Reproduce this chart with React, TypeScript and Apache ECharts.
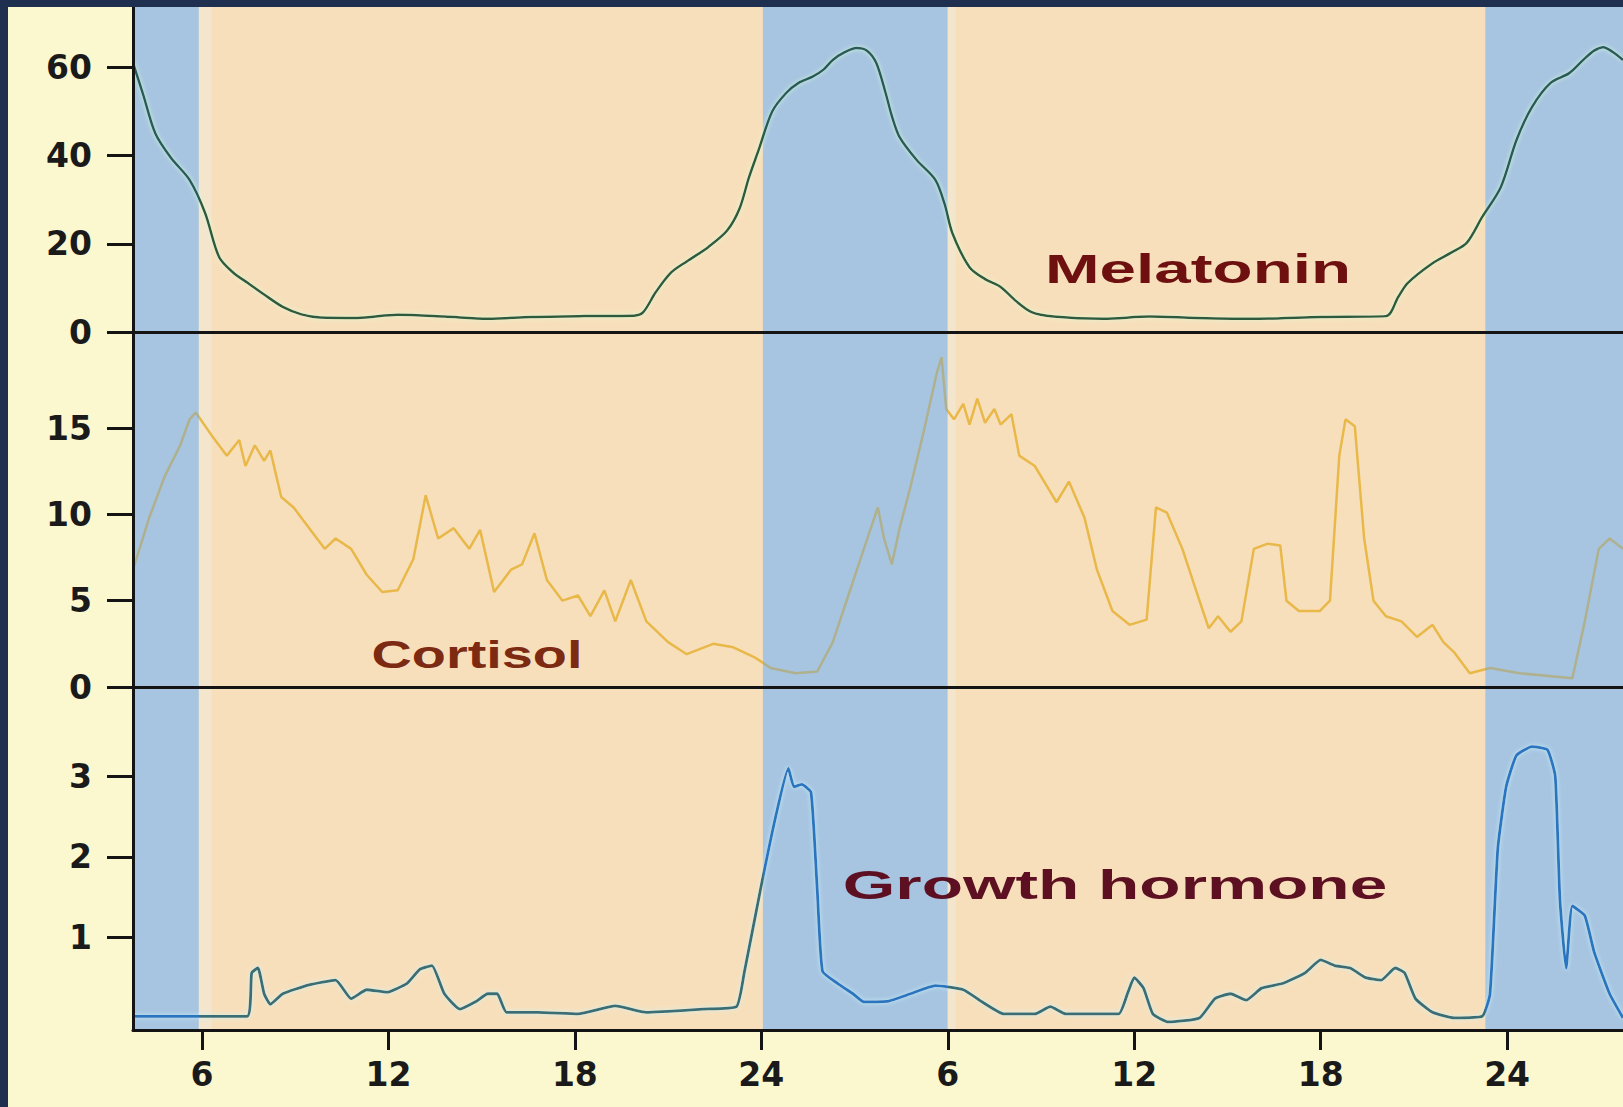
import React, { useEffect, useRef } from "react";
import * as echarts from "echarts";

// ---- data (hours on a continuous clock axis, values in panel units) ----
const xTickHours = [6, 12, 18, 24, 30, 36, 42, 48];
const xTickLabels = ["6", "12", "18", "24", "6", "12", "18", "24"];
const sleepBands = [
  [3.78, 5.9],
  [24.05, 30.0],
  [47.3, 51.73],
];
const dawnStrips = [
  [5.9, 6.3],
  [30.0, 30.25],
];
const melatoninTicks = [0, 20, 40, 60];
const cortisolTicks = [0, 5, 10, 15];
const ghTicks = [1, 2, 3];

const melatoninData = [
  [3.78, 61], [4.1, 54], [4.5, 45], [5.0, 39.5], [5.6, 34.5], [6.1, 27], [6.55, 17], [7.0, 13.5],
  [7.5, 11], [8.0, 8.5], [8.6, 5.7], [9.2, 4], [9.8, 3.3], [11, 3.2], [12.3, 3.9], [13.8, 3.5],
  [15.2, 3.0], [16.6, 3.4], [18.3, 3.6], [19.9, 3.7], [20.2, 4.5], [20.6, 9], [21.1, 13.5],
  [21.6, 16], [22.3, 19.3], [22.9, 23], [23.3, 28], [23.6, 35], [23.9, 41], [24.35, 50],
  [24.8, 54.2], [25.2, 56.5], [25.65, 57.9], [26.0, 59.5], [26.3, 61.7], [26.7, 63.5],
  [27.06, 64.4], [27.4, 63.8], [27.7, 61], [28.0, 54.2], [28.2, 49], [28.45, 44.2], [29.0, 39],
  [29.6, 34.5], [29.9, 29], [30.15, 22.4], [30.7, 14.7], [31.2, 12], [31.7, 10.2], [32.2, 7],
  [32.7, 4.5], [33.4, 3.5], [35, 3.0], [36.5, 3.5], [38, 3.2], [40, 3.0], [42, 3.4], [44.1, 3.6],
  [44.5, 8], [44.8, 11.1], [45.6, 15.6], [46.2, 18], [46.7, 20.2], [47.2, 26.1], [47.8, 32.9],
  [48.3, 43.5], [48.8, 51], [49.4, 56.5], [50.0, 58.7], [50.45, 61.7], [50.8, 63.8], [51.1, 64.6],
  [51.4, 63.5], [51.73, 61.7],
];

const cortisolData = [
  [3.78, 6.8], [4.3, 9.8], [4.8, 12.2], [5.3, 14], [5.6, 15.5], [5.8, 15.9], [6.3, 14.6], [6.8, 13.4],
  [7.2, 14.3], [7.4, 12.8], [7.7, 14], [8.0, 13.1], [8.2, 13.7], [8.55, 11], [8.95, 10.4], [9.45, 9.2],
  [9.95, 8], [10.3, 8.6], [10.8, 8], [11.3, 6.5], [11.8, 5.5], [12.3, 5.6], [12.8, 7.4], [13.2, 11.1],
  [13.6, 8.6], [14.1, 9.2], [14.6, 8], [14.95, 9.1], [15.4, 5.5], [15.95, 6.8], [16.3, 7.1],
  [16.7, 8.9], [17.1, 6.2], [17.6, 5], [18.1, 5.3], [18.5, 4.1], [18.95, 5.6], [19.3, 3.8],
  [19.8, 6.2], [20.3, 3.8], [21, 2.6], [21.6, 1.9], [22.45, 2.5], [23.1, 2.3], [23.8, 1.7],
  [24.3, 1.1], [25.1, 0.8], [25.8, 0.9], [26.3, 2.6], [26.8, 5.3], [27.3, 8], [27.75, 10.4],
  [27.95, 8.6], [28.2, 7.1], [28.45, 9.2], [28.8, 11.6], [29.2, 14.6], [29.65, 18.2], [29.8, 19.1],
  [29.95, 16.1], [30.2, 15.5], [30.5, 16.4], [30.7, 15.2], [30.95, 16.7], [31.2, 15.3], [31.5, 16.1],
  [31.7, 15.2], [32.05, 15.8], [32.3, 13.4], [32.8, 12.8], [33.2, 11.6], [33.5, 10.7], [33.9, 11.9],
  [34.4, 9.8], [34.8, 6.8], [35.3, 4.4], [35.85, 3.6], [36.4, 3.9], [36.7, 10.4], [37.05, 10.1],
  [37.55, 8], [38.1, 5], [38.4, 3.4], [38.7, 4.1], [39.1, 3.2], [39.45, 3.8], [39.85, 8], [40.3, 8.3],
  [40.7, 8.2], [40.9, 5], [41.3, 4.4], [41.97, 4.4], [42.3, 5], [42.6, 13.4], [42.8, 15.5],
  [43.1, 15.1], [43.4, 8.6], [43.7, 5], [44.1, 4.1], [44.6, 3.8], [45.1, 2.9], [45.6, 3.6],
  [45.95, 2.6], [46.3, 2.0], [46.8, 0.8], [47.45, 1.1], [48.4, 0.8], [50.1, 0.5], [50.5, 3.8],
  [50.95, 8], [51.3, 8.6], [51.73, 8],
];

const growthHormoneData = [
  [3.78, 0.02], [7.45, 0.02], [7.6, 0.56], [7.8, 0.62], [8.0, 0.3], [8.2, 0.17], [8.6, 0.3],
  [9.45, 0.41], [10.3, 0.47], [10.8, 0.24], [11.3, 0.35], [11.95, 0.32], [12.6, 0.43], [13.0, 0.6],
  [13.4, 0.65], [13.8, 0.3], [14.3, 0.11], [14.8, 0.2], [15.2, 0.3], [15.5, 0.3], [15.8, 0.07],
  [16.8, 0.07], [18.1, 0.05], [19.3, 0.15], [20.3, 0.07], [22.1, 0.11], [23.2, 0.14], [23.45, 0.56],
  [23.97, 1.59], [24.45, 2.48], [24.87, 3.1], [25.05, 2.87], [25.3, 2.9], [25.6, 2.8], [25.8, 1.59],
  [25.97, 0.58], [26.45, 0.43], [26.95, 0.3], [27.3, 0.2], [28.1, 0.21], [28.8, 0.3], [29.6, 0.4],
  [30.5, 0.35], [31.1, 0.2], [31.8, 0.05], [32.8, 0.05], [33.3, 0.14], [33.8, 0.05], [35.5, 0.05],
  [35.8, 0.32], [36.0, 0.5], [36.3, 0.37], [36.6, 0.05], [37.1, -0.05], [38.1, 0.0], [38.6, 0.24],
  [39.1, 0.3], [39.6, 0.22], [40.1, 0.37], [40.8, 0.43], [41.5, 0.56], [42.0, 0.72], [42.45, 0.65],
  [42.95, 0.62], [43.45, 0.5], [43.95, 0.47], [44.4, 0.62], [44.7, 0.56], [45.05, 0.24], [45.6, 0.07],
  [46.3, 0.0], [47.2, 0.02], [47.45, 0.3], [47.7, 2.1], [47.97, 2.87], [48.3, 3.26], [48.8, 3.37],
  [49.3, 3.33], [49.55, 3.0], [49.7, 1.47], [49.9, 0.62], [50.1, 1.39], [50.5, 1.27], [50.8, 0.82],
  [51.3, 0.3], [51.73, 0.0],
];

const X_MIN = 3.78;
const X_MAX = 51.73;

const AXIS_COLOR = "#141414";
const PEACH = "#f8dfbb";
const BAND_BLUE = "#a7c5e1";
const DAWN = "#f4e5cd";
const LABEL_FONT = { fontFamily: "DejaVu Sans", fontWeight: "bold" as const, fontSize: 33, color: "#1a1a1a" };

function bandPieces(inColor: string, outColor: string) {
  const pieces: any[] = [];
  let prev = -1000;
  sleepBands.forEach((b) => {
    pieces.push({ gte: prev, lt: b[0], color: outColor });
    pieces.push({ gte: b[0], lt: b[1], color: inColor });
    prev = b[1];
  });
  pieces.push({ gte: prev, lte: 1000, color: outColor });
  return pieces;
}

function App() {
  const ref = useRef<HTMLDivElement>(null);

  useEffect(() => {
    if (!ref.current) return;
    const chart = echarts.init(ref.current, undefined, { renderer: "svg" });

    const grids = [
      { left: 133, right: 0, top: 7, height: 325 },
      { left: 133, right: 0, top: 332, height: 355 },
      { left: 133, right: 0, top: 687, height: 343 },
    ].map((g) => ({ ...g, show: true, backgroundColor: PEACH, borderWidth: 0 }));

    const xAxes = [0, 1, 2].map((i) => ({
      type: "value",
      gridIndex: i,
      min: X_MIN,
      max: X_MAX,
      z: 10,
      splitLine: { show: false },
      axisLine: { show: true, onZero: false, lineStyle: { color: AXIS_COLOR, width: 3 } },
      axisTick: {
        show: i === 2,
        customValues: xTickHours,
        length: 20,
        lineStyle: { color: AXIS_COLOR, width: 3 },
      },
      axisLabel: {
        show: i === 2,
        customValues: xTickHours,
        margin: 28,
        ...LABEL_FONT,
        formatter: (v: number) => xTickLabels[xTickHours.indexOf(Math.round(v))] ?? "",
      },
    }));

    const yCfg = [
      { min: 0, max: 73.7, ticks: melatoninTicks },
      { min: 0, max: 20.56, ticks: cortisolTicks },
      { min: -0.15, max: 4.11, ticks: ghTicks },
    ];
    const yAxes = yCfg.map((c, i) => ({
      type: "value",
      gridIndex: i,
      min: c.min,
      max: c.max,
      z: 10,
      splitLine: { show: false },
      axisLine: { show: true, onZero: false, lineStyle: { color: AXIS_COLOR, width: 3 } },
      axisTick: { show: true, customValues: c.ticks, length: 26, lineStyle: { color: AXIS_COLOR, width: 3 } },
      axisLabel: { show: true, customValues: c.ticks, margin: 41, ...LABEL_FONT },
    }));

    const bandSeries = [0, 1, 2].map((i) => ({
      type: "line",
      xAxisIndex: i,
      yAxisIndex: i,
      data: [],
      z: 1,
      silent: true,
      markArea: {
        silent: true,
        data: [
          ...sleepBands.map((b) => [
            { xAxis: b[0], itemStyle: { color: BAND_BLUE } },
            { xAxis: b[1] },
          ]),
          ...dawnStrips.map((b) => [
            { xAxis: b[0], itemStyle: { color: DAWN } },
            { xAxis: b[1] },
          ]),
        ],
      },
    }));

    const option: any = {
      animation: false,
      backgroundColor: "#fbf8cf",
      grid: grids,
      xAxis: xAxes,
      yAxis: yAxes,
      visualMap: [
        { type: "piecewise", show: false, dimension: 0, seriesIndex: 3, pieces: bandPieces("#285b58", "#2f5a3d") },
        { type: "piecewise", show: false, dimension: 0, seriesIndex: 4, pieces: bandPieces("#aeb08e", "#e8b849") },
        { type: "piecewise", show: false, dimension: 0, seriesIndex: 5, pieces: bandPieces("#2a74bf", "#3a6d74") },
      ],
      series: [
        ...bandSeries,
        {
          name: "Melatonin",
          type: "line",
          xAxisIndex: 0,
          yAxisIndex: 0,
          data: melatoninData,
          smooth: 0.3,
          showSymbol: false,
          symbol: "none",
          z: 3,
          lineStyle: { width: 2.5, shadowColor: "rgba(215,255,215,0.9)", shadowBlur: 4 },
        },
        {
          name: "Cortisol",
          type: "line",
          xAxisIndex: 1,
          yAxisIndex: 1,
          data: cortisolData,
          showSymbol: false,
          symbol: "none",
          z: 3,
          lineStyle: { width: 2.5 },
        },
        {
          name: "Growth hormone",
          type: "line",
          xAxisIndex: 2,
          yAxisIndex: 2,
          data: growthHormoneData,
          smooth: 0.15,
          showSymbol: false,
          symbol: "none",
          z: 3,
          lineStyle: { width: 2.8, shadowColor: "rgba(200,245,250,0.9)", shadowBlur: 4 },
        },
      ],
      graphic: [
        { type: "rect", z: 100, shape: { x: 0, y: 0, width: 1623, height: 7 }, style: { fill: "#1f2f4f" } },
        { type: "rect", z: 100, shape: { x: 0, y: 0, width: 8, height: 1107 }, style: { fill: "#1f2f4f" } },
        {
          type: "text", z: 50, x: 1198, y: 269, scaleX: 1.64,
          style: {
            text: "Melatonin", fill: "#6e1010", font: 'bold 40px "Liberation Sans", Arial, sans-serif',
            textAlign: "center", textVerticalAlign: "middle", align: "center", verticalAlign: "middle",
          },
        },
        {
          type: "text", z: 50, x: 477, y: 655, scaleX: 1.47,
          style: {
            text: "Cortisol", fill: "#7d2a12", font: 'bold 38px "Liberation Sans", Arial, sans-serif',
            textAlign: "center", textVerticalAlign: "middle", align: "center", verticalAlign: "middle",
          },
        },
        {
          type: "text", z: 50, x: 1115, y: 885, scaleX: 1.69,
          style: {
            text: "Growth hormone", fill: "#5c1022", font: 'bold 40px "Liberation Sans", Arial, sans-serif',
            textAlign: "center", textVerticalAlign: "middle", align: "center", verticalAlign: "middle",
          },
        },
      ],
    };

    chart.setOption(option);
    return () => chart.dispose();
  }, []);

  return (
    <div
      ref={ref}
      style={{ position: "absolute", left: 0, top: 0, width: 1623, height: 1107 }}
    />
  );
}

export default App;
